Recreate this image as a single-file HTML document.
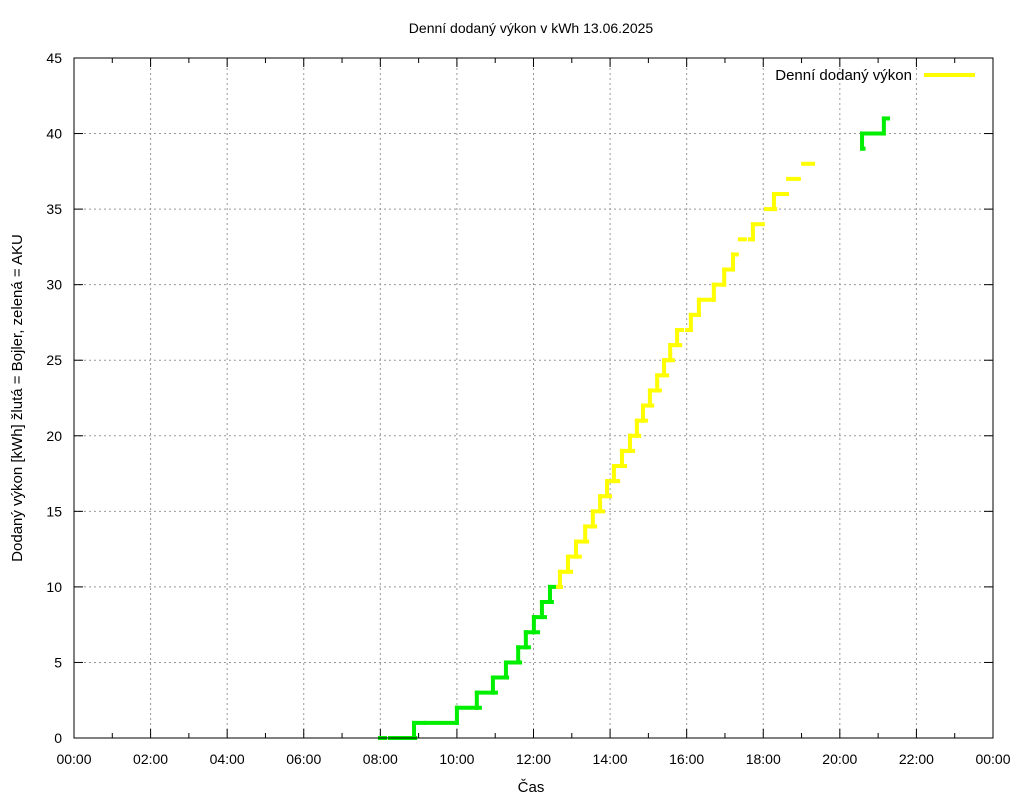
<!DOCTYPE html>
<html><head><meta charset="utf-8"><style>
body{margin:0;background:#fff;}
svg{display:block;font-family:"Liberation Sans",sans-serif;}
</style></head><body>
<svg id="chart" width="1024" height="800" viewBox="0 0 1024 800">
<rect width="1024" height="800" fill="#fff"/>
<text x="531" y="33" font-size="14" text-anchor="middle">Denní dodaný výkon v kWh 13.06.2025</text>
<text transform="translate(22,398) rotate(-90)" font-size="15" text-anchor="middle">Dodaný výkon [kWh]  žlutá = Bojler, zelená = AKU</text>
<text x="531" y="792" font-size="15" text-anchor="middle">Čas</text>
<g id="grid"></g><g id="ticks"></g><g id="series"></g>
<rect x="74" y="58" width="919" height="680" fill="none" stroke="#000" stroke-width="1"/>
<g>
<text x="912" y="80" font-size="15" text-anchor="end">Denní dodaný výkon</text>
<line x1="924" y1="75" x2="975" y2="75" stroke="#ffff00" stroke-width="4"/>
</g>
</svg>
<script>
const xTickLabels=["00:00","02:00","04:00","06:00","08:00","10:00","12:00","14:00","16:00","18:00","20:00","22:00","00:00"];
const yTickValues=[0,5,10,15,20,25,30,35,40,45];
const segStart=[7.99,8.25,8.54,8.72,8.88,9.01,9.19,10.00,10.52,10.94,11.28,11.60,11.80,12.01,12.22,12.43,12.64,12.69,12.90,13.11,13.35,13.55,13.74,13.92,14.10,14.31,14.52,14.70,14.86,15.04,15.23,15.41,15.57,15.75,16.01,16.11,16.32,16.71,16.98,17.21,17.39,17.65,17.73,18.07,18.28,18.65,18.83,19.04,19.20,20.58,20.58,21.15];
const segEnd=[8.12,8.44,8.67,8.91,8.93,9.14,10.00,10.60,11.02,11.31,11.65,11.88,12.12,12.30,12.48,12.64,12.72,12.98,13.21,13.40,13.61,13.82,14.00,14.21,14.39,14.60,14.76,14.94,15.10,15.30,15.49,15.64,15.83,15.88,16.11,16.32,16.69,16.98,17.19,17.31,17.52,17.73,17.99,18.31,18.62,18.75,18.93,19.14,19.30,20.62,21.13,21.26];
const segVal=[0,0,0,0,1,1,1,2,3,4,5,6,7,8,9,10,10,11,12,13,14,15,16,17,18,19,20,21,22,23,24,25,26,27,27,28,29,30,31,32,33,33,34,35,36,37,37,38,38,39,40,41];
const segColor=["g","g","g","g","g","g","g","g","g","g","g","g","g","g","g","g","y","y","y","y","y","y","y","y","y","y","y","y","y","y","y","y","y","y","y","y","y","y","y","y","y","y","y","y","y","y","y","y","y","g","g","g"];
const X0=74,X1=993,Y0=738,Y1=58;
const xs=h=>X0+(X1-X0)*h/24;
const ys=v=>Y0-(Y0-Y1)*v/45;
const NS="http://www.w3.org/2000/svg";
function mk(t,a,p){const e=document.createElementNS(NS,t);for(const k in a)e.setAttribute(k,a[k]);p.appendChild(e);return e;}
const grid=document.getElementById('grid'),ticks=document.getElementById('ticks'),ser=document.getElementById('series');
xTickLabels.forEach((lab,i)=>{
  const x=xs(i*2);
  if(i>0&&i<xTickLabels.length-1){
    const g=mk('line',{x1:x,y1:Y1,x2:x,y2:Y0,stroke:'#999','stroke-dasharray':'2,3'},grid);
    
    
  }
  const t1=mk('line',{x1:x,y1:Y0,x2:x,y2:Y0-9,stroke:'#000'},ticks);
  
  
  mk('line',{x1:x,y1:Y1,x2:x,y2:Y1+9,stroke:'#000'},ticks);
  if(i<xTickLabels.length-1){
    const xm=xs(i*2+1);
    const m=mk('line',{x1:xm,y1:Y0,x2:xm,y2:Y0-5,stroke:'#000'},ticks);
    
    
    mk('line',{x1:xm,y1:Y1,x2:xm,y2:Y1+5,stroke:'#000'},ticks);
  }
  const tx=mk('text',{x:x,y:Y0+26,'font-size':'14','text-anchor':'middle'},ticks);
  tx.textContent=lab;
  
  
});
yTickValues.forEach(v=>{
  const y=ys(v);
  if(v>0&&v<45){
    const g=mk('line',{x1:X0,y1:y,x2:X1,y2:y,stroke:'#999','stroke-dasharray':'2,3'},grid);
    
    
  }
  mk('line',{x1:X0,y1:y,x2:X0+9,y2:y,stroke:'#000'},ticks);
  mk('line',{x1:X1,y1:y,x2:X1-9,y2:y,stroke:'#000'},ticks);
  const tx=mk('text',{x:62,y:y+5,'font-size':'14','text-anchor':'end'},ticks);
  tx.textContent=v;
  
  
});
const col={g:'#00ee00',y:'#ffff00'};
for(let i=0;i<segStart.length;i++){
  const c=col[segColor[i]];
  const s=mk('line',{x1:xs(segStart[i]),y1:ys(segVal[i]),x2:xs(segEnd[i]),y2:ys(segVal[i]),stroke:c,'stroke-width':4,'stroke-linecap':'square'},ser);
  
  
  if(i>0&&segVal[i]===segVal[i-1]+1&&segStart[i]<=segEnd[i-1]+0.02&&segStart[i]>=segEnd[i-1]-0.15){
    const x=xs(segStart[i]);
    const v=mk('line',{x1:x,y1:ys(segVal[i-1]),x2:x,y2:ys(segVal[i]),stroke:c,'stroke-width':4,'stroke-linecap':'square'},ser);
    
    
  }
}
</script>
</body></html>
